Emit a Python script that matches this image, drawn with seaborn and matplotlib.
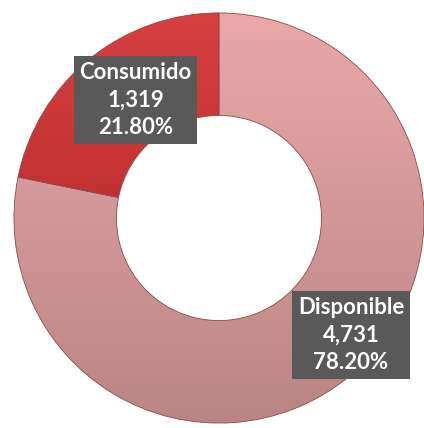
import numpy as np
import matplotlib
matplotlib.use("Agg")
import matplotlib.pyplot as plt
import seaborn as sns
from matplotlib.colors import LinearSegmentedColormap

# data
labels = ["Consumido", "Disponible"]
values = [1319, 4731]
shares = ["21.80%", "78.20%"]

sns.set_theme(style="white")
plt.rcParams['font.family'] = ['Lato', 'DejaVu Sans']

fig = plt.figure(figsize=(4.24, 4.28), dpi=100)
ax = fig.add_axes([0, 0, 1, 1])

wedges, _ = ax.pie(values, startangle=90, counterclock=True,
                   colors=["#c93232", "#d89a9a"],
                   wedgeprops=dict(width=0.5, edgecolor="#8a4a4a", linewidth=0.6))

# vertical shading inside each slice
grads = [("#d84040", "#a82020"), ("#eaa8a8", "#bb8585")]
for w, (top, bot) in zip(wedges, grads):
    cmap = LinearSegmentedColormap.from_list("g", [bot, top])
    grad = np.linspace(0, 1, 256).reshape(-1, 1)
    im = ax.imshow(grad, cmap=cmap, extent=[-1, 1, -1, 1], origin="lower",
                   aspect="auto", zorder=w.get_zorder() + 0.1)
    im.set_clip_path(w)
    w.set_zorder(w.get_zorder() + 0.2)
    w.set_facecolor("none")
# pie resets the limits, so set them afterwards
ax.set_xlim(-1.068, 1.0)
ax.set_ylim(-1.024, 1.063)
ax.axis("off")

# label boxes
pos = [(-0.407, 0.576), (0.644, -0.571)]
for lab, v, s, (x, y) in zip(labels, values, shares, pos):
    ax.text(x, y, f"{lab}\n{v:,}\n{s}", ha="center", va="center",
            color="white", fontsize=16, fontweight="bold", linespacing=1.4,
            zorder=10,
            bbox=dict(boxstyle="square,pad=0.25", fc="#595959", ec="none"))

fig.savefig("out.png", dpi=100)
